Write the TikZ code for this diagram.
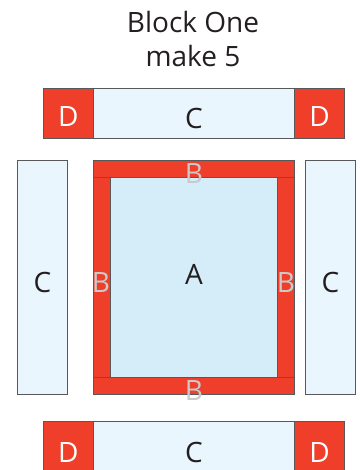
\documentclass[tikz,border=0pt]{standalone}
\usepackage{fontspec}
\setmainfont{Open Sans}
\definecolor{quiltred}{HTML}{EF3E2A}
\definecolor{palec}{HTML}{E9F6FE}
\definecolor{palea}{HTML}{D5EDF9}
\definecolor{seam}{HTML}{58585A}
\definecolor{ink}{HTML}{231F20}
\definecolor{bgrey}{HTML}{CACACA}
\begin{document}
\begin{tikzpicture}[x=1pt,y=-1pt,
  piece/.style={draw=seam,line width=0.9pt,inner sep=0pt,anchor=north west},
  cpiece/.style={piece,fill=palec},
  dpiece/.style={piece,fill=quiltred,minimum size=50pt},
  bpiece/.style={piece,fill=quiltred},
  letter/.style={inner sep=0pt,font=\fontsize{28}{28}\selectfont,text=ink},
  dletter/.style={letter,text=white},
  bletter/.style={letter,text=bgrey}]
\useasboundingbox (0,0) rectangle (359,470);
% title
\node[letter] (title) at (193,22) {Block One};
\node[letter] (count) at (193,56) {make 5};
% top row
\node[dpiece] (dtl) at (43,88) {};
\node[cpiece,minimum width=201pt,minimum height=50pt] (ctop) at (93,88) {};
\node[dpiece] (dtr) at (294,88) {};
% side strips
\node[cpiece,minimum width=50pt,minimum height=234pt] (cleft) at (17,160) {};
\node[cpiece,minimum width=50pt,minimum height=234pt] (cright) at (305,160) {};
% centre square with frame
\node[bpiece,minimum width=201pt,minimum height=17pt] (btop) at (93,160) {};
\node[bpiece,minimum width=201pt,minimum height=17pt] (bbot) at (93,377) {};
\node[bpiece,minimum width=17pt,minimum height=200pt] (bleft) at (93,177) {};
\node[bpiece,minimum width=17pt,minimum height=200pt] (bright) at (277,177) {};
\node[piece,fill=palea,minimum width=167pt,minimum height=200pt] (asq) at (110,177) {};
% bottom row
\node[dpiece] (dbl) at (43,421) {};
\node[cpiece,minimum width=201pt,minimum height=50pt] (cbot) at (93,421) {};
\node[dpiece] (dbr) at (294,421) {};
% letters
\node[dletter] at ([yshift=-3.5pt]dtl.center) {D};
\node[letter] at ([yshift=-5pt]ctop.center) {C};
\node[dletter] at ([yshift=-3.5pt]dtr.center) {D};
\node[letter] at ([yshift=-5pt]cleft.center) {C};
\node[letter] at ([yshift=-5pt]cright.center) {C};
\node[letter] at ([yshift=3pt]asq.center) {A};
\node[bletter] at ([yshift=-4.5pt]btop.center) {B};
\node[bletter] at ([yshift=-4.5pt]bbot.center) {B};
\node[bletter] at ([xshift=-1pt,yshift=-5pt]bleft.center) {B};
\node[bletter] at ([yshift=-5pt]bright.center) {B};
\node[dletter] at ([yshift=-6pt]dbl.center) {D};
\node[letter] at ([yshift=-6pt]cbot.center) {C};
\node[dletter] at ([yshift=-6pt]dbr.center) {D};
\end{tikzpicture}
\end{document}
